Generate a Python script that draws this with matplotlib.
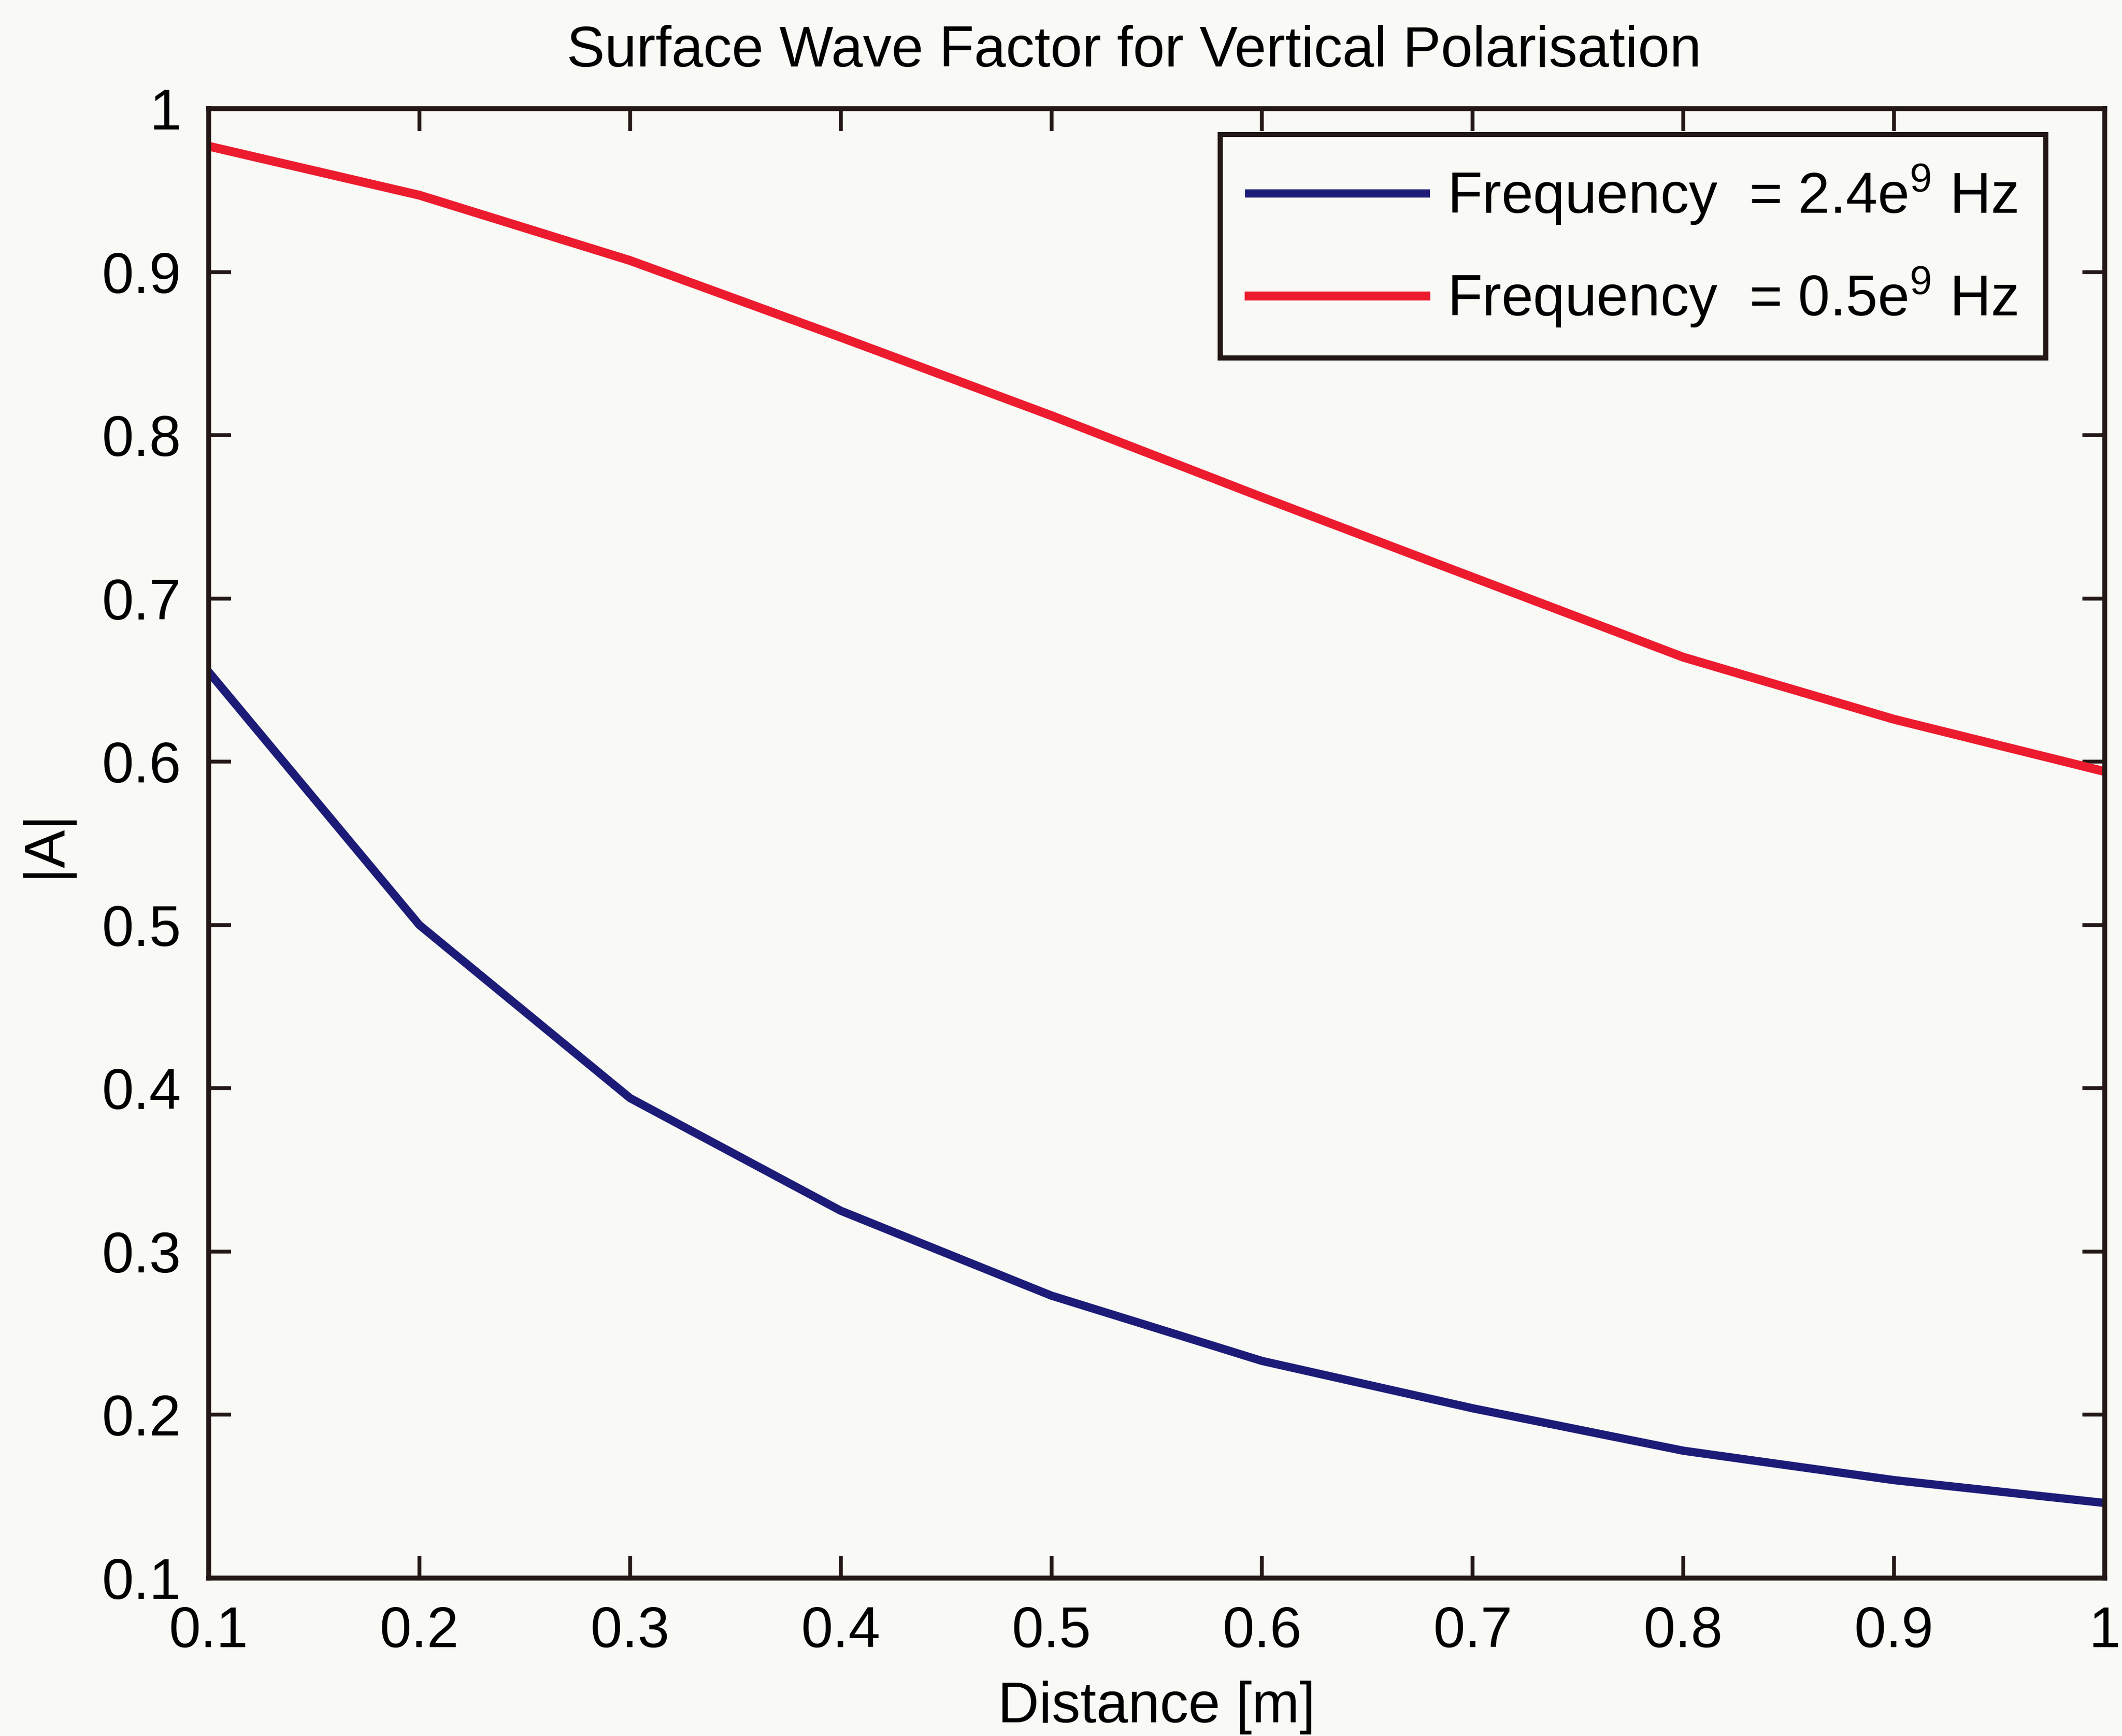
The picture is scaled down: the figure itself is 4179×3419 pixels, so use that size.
import matplotlib
matplotlib.use('Agg')
import matplotlib.pyplot as plt
from matplotlib.ticker import FuncFormatter

plt.rcParams['font.family'] = ['Liberation Sans', 'DejaVu Sans']
plt.rcParams['mathtext.default'] = 'regular'

# values
distance = [0.1, 0.2, 0.3, 0.4, 0.5, 0.6, 0.7, 0.8, 0.9, 1.0]
a_24ghz = [0.655, 0.500, 0.394, 0.325, 0.273, 0.233, 0.204, 0.178, 0.160, 0.146]
a_05ghz = [0.977, 0.947, 0.907, 0.860, 0.812, 0.762, 0.713, 0.664, 0.626, 0.594]
labels = ['Frequency  = 2.4e$^{9}$ Hz', 'Frequency  = 0.5e$^{9}$ Hz']
x_ticks = [0.1, 0.2, 0.3, 0.4, 0.5, 0.6, 0.7, 0.8, 0.9, 1.0]
y_ticks = [0.1, 0.2, 0.3, 0.4, 0.5, 0.6, 0.7, 0.8, 0.9, 1.0]

paper = '#f9f9f6'
ink = '#231815'


def _tick_fmt(v, pos):
    return '%g' % round(v, 3)


def plot_surface_wave(save_file='out.png'):
    fig = plt.figure(figsize=(4179 / 300, 3419 / 300), dpi=300, facecolor=paper)
    ax = fig.add_axes([411 / 4179, 1 - 3108 / 3419, 3734 / 4179, 2894 / 3419])
    ax.set_facecolor(paper)

    ax.plot(distance, a_24ghz, color='#1c1c78', lw=3.9, label=labels[0])
    ax.plot(distance, a_05ghz, color='#ec1b2e', lw=4.2, label=labels[1])

    ax.set_xlim(0.1, 1.0)
    ax.set_ylim(0.1, 1.0)
    ax.set_xticks(x_ticks)
    ax.set_yticks(y_ticks)
    ax.xaxis.set_major_formatter(FuncFormatter(_tick_fmt))
    ax.yaxis.set_major_formatter(FuncFormatter(_tick_fmt))

    for s in ax.spines.values():
        s.set_linewidth(2.3)
        s.set_color(ink)
    ax.tick_params(direction='in', length=10.5, width=1.8, colors=ink,
                   top=True, right=True, labelsize=27, pad=13, labelcolor='black')

    ax.set_xlabel('Distance [m]', fontsize=27, labelpad=10)
    ax.set_ylabel('|A|', fontsize=27, labelpad=14)
    ax.set_title('Surface Wave Factor for Vertical Polarisation', fontsize=27, pad=20, x=0.488)

    leg = ax.legend(loc='upper right', bbox_to_anchor=(0.969, 0.9824), borderaxespad=0,
                    fontsize=27, handlelength=3.1, handletextpad=0.37, borderpad=0.5,
                    labelspacing=0.68, fancybox=False, framealpha=1, edgecolor=ink)
    leg.get_frame().set_linewidth(2.4)
    leg.get_frame().set_facecolor(paper)

    fig.savefig(save_file, dpi=300, facecolor=paper)


plot_surface_wave()
